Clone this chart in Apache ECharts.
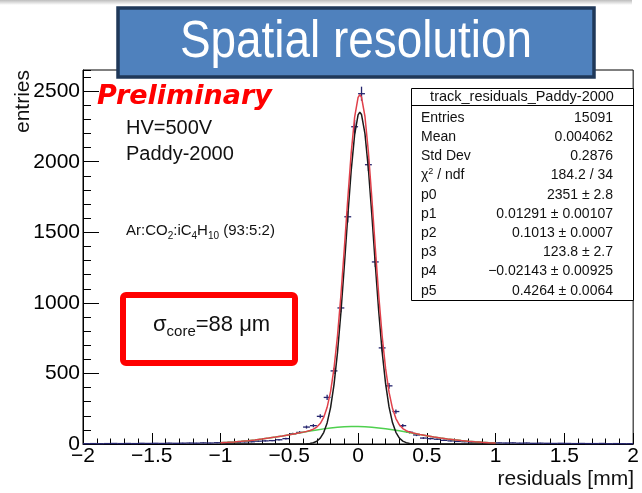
<!DOCTYPE html>
<html>
<head>
<meta charset="utf-8">
<script src="https://cdn.jsdelivr.net/npm/echarts@6/dist/echarts.min.js"></script>
<style>
  html, body { margin: 0; padding: 0; background: #ffffff; }
  #chart { width: 642px; height: 493px; }
</style>
</head>
<body>
<div id="chart"></div>
<script>
// ---------- DATA ----------
const binWidth = 0.05;
const binCenters = [
  -1.975,-1.925,-1.875,-1.825,-1.775,-1.725,-1.675,-1.625,-1.575,-1.525,
  -1.475,-1.425,-1.375,-1.325,-1.275,-1.225,-1.175,-1.125,-1.075,-1.025,
  -0.975,-0.925,-0.875,-0.825,-0.775,-0.725,-0.675,-0.625,-0.575,-0.525,
  -0.475,-0.425,-0.375,-0.325,-0.275,-0.225,-0.175,-0.125,-0.075,-0.025,
   0.025, 0.075, 0.125, 0.175, 0.225, 0.275, 0.325, 0.375, 0.425, 0.475,
   0.525, 0.575, 0.625, 0.675, 0.725, 0.775, 0.825, 0.875, 0.925, 0.975,
   1.025, 1.075, 1.125, 1.175, 1.225, 1.275, 1.325, 1.375, 1.425, 1.475,
   1.525, 1.575, 1.625, 1.675, 1.725, 1.775, 1.825, 1.875, 1.925, 1.975
];
const entries = [
  2,3,2,3,4,3,4,3,5,4,
  5,4,6,5,6,7,6,8,7,9,
  10,11,13,15,16,20,22,24,30,38,
  72,82,120,130,196,330,518,964,1610,2248,
  2482,1979,1290,681,412,230,130,83,64,42,
  38,34,26,22,18,16,13,12,10,9,
  8,7,8,6,7,5,6,5,4,5,
  4,3,4,3,3,4,2,3,2,2
];

// fitted curves
const redX = [-1,-0.95,-0.9,-0.85,-0.8,-0.75,-0.7,-0.65,-0.6,-0.55,-0.5,
  -0.45,-0.425,-0.4,-0.375,-0.35,-0.325,-0.3,-0.275,-0.25,-0.225,-0.2,-0.175,-0.15,-0.125,-0.1,-0.075,-0.05,-0.025,0,0.0125,
  0.025,0.05,0.075,0.1,0.125,0.15,0.175,0.2,0.225,0.25,0.275,0.3,0.325,0.35,0.375,0.4,0.425,0.45,
  0.5,0.55,0.6,0.65,0.7,0.75,0.8,0.85,0.9,0.95,1];
const redY = [8.9,11.6,14.8,18.7,23.4,28.8,34.9,41.8,49.3,57.4,66.0,
  74.8,79.3,84.1,89.3,95.8,105.1,119.9,145.1,188.2,259.7,371.6,536.9,763.7,1051.0,1385.1,1736.3,2062.4,2315.9,2455.6,2474.4,
  2457.4,2320.5,2069.0,1743.5,1391.2,1055.1,764.6,535.4,367.4,253.0,179.9,135.6,109.4,94.0,84.4,77.6,72.2,67.4,
  58.6,50.4,42.8,35.8,29.6,24.1,19.4,15.3,12.0,9.2,7.0];

const blackX = [-1,-0.45,-0.425,-0.4,-0.375,-0.35,-0.325,-0.3,-0.275,-0.25,-0.225,-0.2,-0.175,-0.15,-0.125,-0.1,-0.075,-0.05,-0.025,0,0.0125,
  0.025,0.05,0.075,0.1,0.125,0.15,0.175,0.2,0.225,0.25,0.275,0.3,0.325,0.35,0.375,0.4,0.425,0.45,1];
const blackY = [0,0.1,0.2,0.6,1.5,3.8,9.0,19.9,41.4,81.0,149.2,258.2,420.9,645.4,930.8,1263.4,1613.5,1938.9,2192.1,2332.0,2351.0,
  2334.3,2198.4,1948.3,1624.6,1274.5,940.9,653.3,427.2,262.6,151.9,82.7,42.4,20.4,9.3,4.0,1.6,0.6,0.2,0];

const greenX = [-1,-0.95,-0.9,-0.85,-0.8,-0.75,-0.7,-0.65,-0.6,-0.55,-0.5,-0.45,-0.4,-0.35,-0.3,-0.25,-0.2,-0.15,-0.1,-0.05,0,
  0.05,0.1,0.15,0.2,0.25,0.3,0.35,0.4,0.45,0.5,0.55,0.6,0.65,0.7,0.75,0.8,0.85,0.9,0.95,1];
const greenY = [8.9,11.6,14.8,18.7,23.4,28.8,34.9,41.8,49.3,57.4,66.0,74.7,83.5,92.0,100.0,107.2,113.4,118.3,121.7,123.5,123.6,
  122.1,118.9,114.2,108.2,101.1,93.2,84.7,76.0,67.2,58.6,50.4,42.8,35.8,29.6,24.1,19.4,15.3,12.0,9.2,7.0];

const xTickLabels = ['-2','-1.5','-1','-0.5','0','0.5','1','1.5','2'];
const yTickLabels = ['0','500','1000','1500','2000','2500'];

const statsTitle = 'track_residuals_Paddy-2000';
const statsNames = ['Entries','Mean','Std Dev','χ{sup|2} / ndf','p0','p1','p2','p3','p4','p5'];
const statsValues = ['15091','0.004062','0.2876','184.2 / 34','2351 ± 2.8','0.01291 ± 0.00107',
  '0.1013 ± 0.0007','123.8 ± 2.7','\u22120.02143 ± 0.00925','0.4264 ± 0.0064'];

// ---------- CHART ----------
const FONT = "'Liberation Sans', Arial, Helvetica, sans-serif";
const chart = echarts.init(document.getElementById('chart'), null, { renderer: 'canvas' });

const histData = binCenters.map((x, i) => [x, entries[i]]);
const pairs = (xs, ys) => xs.map((x, i) => [x, ys[i]]);

function renderCross(params, api) {
  const x = api.value(0), n = api.value(1), e = Math.sqrt(n);
  const l = api.coord([x - binWidth / 2, n]);
  const r = api.coord([x + binWidth / 2, n]);
  const t = api.coord([x, n + e]);
  const b = api.coord([x, Math.max(0, n - e)]);
  const st = { stroke: '#24246e', lineWidth: 1.3 };
  return { type: 'group', children: [
    { type: 'line', shape: { x1: l[0], y1: l[1], x2: r[0], y2: r[1] }, style: st },
    { type: 'line', shape: { x1: t[0], y1: t[1], x2: b[0], y2: b[1] }, style: st }
  ]};
}

const statsGraphics = [];
const sbX = 411, sbY = 88, sbW = 222, sbH = 212;
statsGraphics.push({ type: 'rect', z: 100, shape: { x: sbX + 0.5, y: sbY + 0.5, width: sbW, height: sbH },
  style: { fill: '#ffffff', stroke: '#000000', lineWidth: 1 } });
statsGraphics.push({ type: 'line', z: 101, shape: { x1: sbX, y1: 105.5, x2: sbX + sbW, y2: 105.5 },
  style: { stroke: '#000000', lineWidth: 1 } });
statsGraphics.push({ type: 'text', z: 101, x: sbX + sbW / 2, y: 97,
  style: { text: statsTitle, fontFamily: FONT, fontSize: 14.5, fill: '#111', align: 'center', verticalAlign: 'middle' } });
statsNames.forEach((nm, i) => {
  const y = 118 + i * 19.2;
  statsGraphics.push({ type: 'text', z: 101, x: 421, y: y,
    style: { text: nm, fontFamily: FONT, fontSize: 14, fill: '#111', align: 'left', verticalAlign: 'middle',
      rich: { sup: { fontFamily: FONT, fontSize: 9, fill: '#111', verticalAlign: 'top', lineHeight: 18 } } } });
  statsGraphics.push({ type: 'text', z: 101, x: 613, y: y,
    style: { text: statsValues[i], fontFamily: FONT, fontSize: 14, fill: '#111', align: 'right', verticalAlign: 'middle' } });
});

const option = {
  animation: false,
  backgroundColor: '#ffffff',
  grid: { left: 83, right: 7, top: 70, bottom: 49, show: true, borderColor: '#000000', borderWidth: 1, backgroundColor: 'transparent' },
  xAxis: {
    type: 'value', min: -2, max: 2, interval: 0.5,
    axisLine: { show: true, onZero: false, lineStyle: { color: '#000', width: 1 } },
    axisTick: { show: true, inside: true, length: 11, lineStyle: { color: '#000' } },
    minorTick: { show: true, splitNumber: 5, length: 5.5, lineStyle: { color: '#000' } },
    splitLine: { show: false },
    axisLabel: { margin: 2, fontFamily: FONT, fontSize: 21, color: '#000',
      formatter: v => { const i = Math.round((v + 2) / 0.5); return (xTickLabels[i] || String(v)).replace('-', '\u2212'); } }
  },
  yAxis: [
    {
      type: 'value', min: 0, max: 2650, interval: 500, position: 'left',
      axisLine: { show: true, onZero: false, lineStyle: { color: '#000', width: 1 } },
      axisTick: { show: true, inside: true, length: 16, lineStyle: { color: '#000' } },
      splitLine: { show: false },
      axisLabel: { margin: 3, fontFamily: FONT, fontSize: 21, color: '#000', showMaxLabel: false,
        formatter: v => { const i = Math.round(v / 500); return yTickLabels[i] !== undefined && Math.abs(v - i * 500) < 1e-6 ? yTickLabels[i] : ''; } }
    },
    {
      type: 'value', min: 0, max: 2650, interval: 100, position: 'left', offset: 0,
      axisLine: { show: false, onZero: false },
      axisTick: { show: true, inside: true, length: 8, lineStyle: { color: '#000' } },
      splitLine: { show: false },
      axisLabel: { show: false }
    }
  ],
  series: [
    { type: 'custom', name: 'hist', renderItem: renderCross, data: histData, z: 2, xAxisIndex: 0, yAxisIndex: 0,
      encode: { x: 0, y: 1 } },
    { type: 'line', name: 'tail', data: pairs(greenX, greenY), showSymbol: false, symbol: 'none', z: 3,
      lineStyle: { color: '#4fd04f', width: 1.5 }, silent: true },
    { type: 'line', name: 'core', data: pairs(blackX, blackY), showSymbol: false, symbol: 'none', z: 4,
      lineStyle: { color: '#1a1a1a', width: 1.5 }, silent: true },
    { type: 'line', name: 'total', data: pairs(redX, redY), showSymbol: false, symbol: 'none', z: 5,
      lineStyle: { color: '#e0404a', width: 1.5 }, silent: true }
  ],
  graphic: [
    // slide top shadow band
    { type: 'rect', z: 90, shape: { x: 0, y: 0, width: 632, height: 5 },
      style: { fill: new echarts.graphic.LinearGradient(0, 0, 0, 1, [{ offset: 0, color: '#bdbdbd' }, { offset: 1, color: '#ffffff' }]) } },
    // title box
    { type: 'rect', z: 110, shape: { x: 118, y: 8, width: 476, height: 69 },
      style: { fill: '#4f81bd', stroke: '#1f3859', lineWidth: 3.5 } },
    { type: 'text', z: 111, x: 356, y: 43, scaleX: 0.9,
      style: { text: 'Spatial resolution', fontFamily: FONT, fontSize: 51, fill: '#ffffff', align: 'center', verticalAlign: 'middle' } },
    // annotations
    { type: 'text', z: 100, x: 97, y: 97,
      style: { text: 'Preliminary', fontFamily: "'DejaVu Sans', sans-serif", fontWeight: 'bold', fontStyle: 'italic', fontSize: 27,
        fill: '#ff0000', align: 'left', verticalAlign: 'middle' } },
    { type: 'text', z: 100, x: 126, y: 128,
      style: { text: 'HV=500V', fontFamily: FONT, fontSize: 20, fill: '#111', align: 'left', verticalAlign: 'middle' } },
    { type: 'text', z: 100, x: 126, y: 154.5,
      style: { text: 'Paddy-2000', fontFamily: FONT, fontSize: 20, fill: '#111', align: 'left', verticalAlign: 'middle' } },
    { type: 'text', z: 100, x: 126, y: 231,
      style: { text: 'Ar:CO{s|2}:iC{s|4}H{s|10} (93:5:2)', fontFamily: FONT, fontSize: 15, fill: '#111', lineHeight: 21,
        align: 'left', verticalAlign: 'middle',
        rich: { s: { fontFamily: FONT, fontSize: 10, fill: '#111', verticalAlign: 'bottom', lineHeight: 10 } } } },
    // sigma box
    { type: 'rect', z: 100, shape: { x: 123, y: 295, width: 172, height: 68, r: 3 },
      style: { fill: 'none', stroke: '#ff0000', lineWidth: 6 } },
    { type: 'text', z: 101, x: 153, y: 325,
      style: { text: 'σ{s|core}=88 μm', fontFamily: FONT, fontSize: 22, fill: '#111', lineHeight: 28,
        align: 'left', verticalAlign: 'middle',
        rich: { s: { fontFamily: FONT, fontSize: 15, fill: '#111', verticalAlign: 'bottom', lineHeight: 15 } } } },
    // axis titles
    { type: 'text', z: 100, x: 34, y: 70, rotation: Math.PI / 2,
      style: { text: 'entries', fontFamily: FONT, fontSize: 21, fill: '#111', align: 'right', verticalAlign: 'bottom' } },
    { type: 'text', z: 100, x: 634, y: 479,
      style: { text: 'residuals [mm]', fontFamily: FONT, fontSize: 21, fill: '#111', align: 'right', verticalAlign: 'middle' } }
  ].concat(statsGraphics)
};
chart.setOption(option);
</script>
</body>
</html>
